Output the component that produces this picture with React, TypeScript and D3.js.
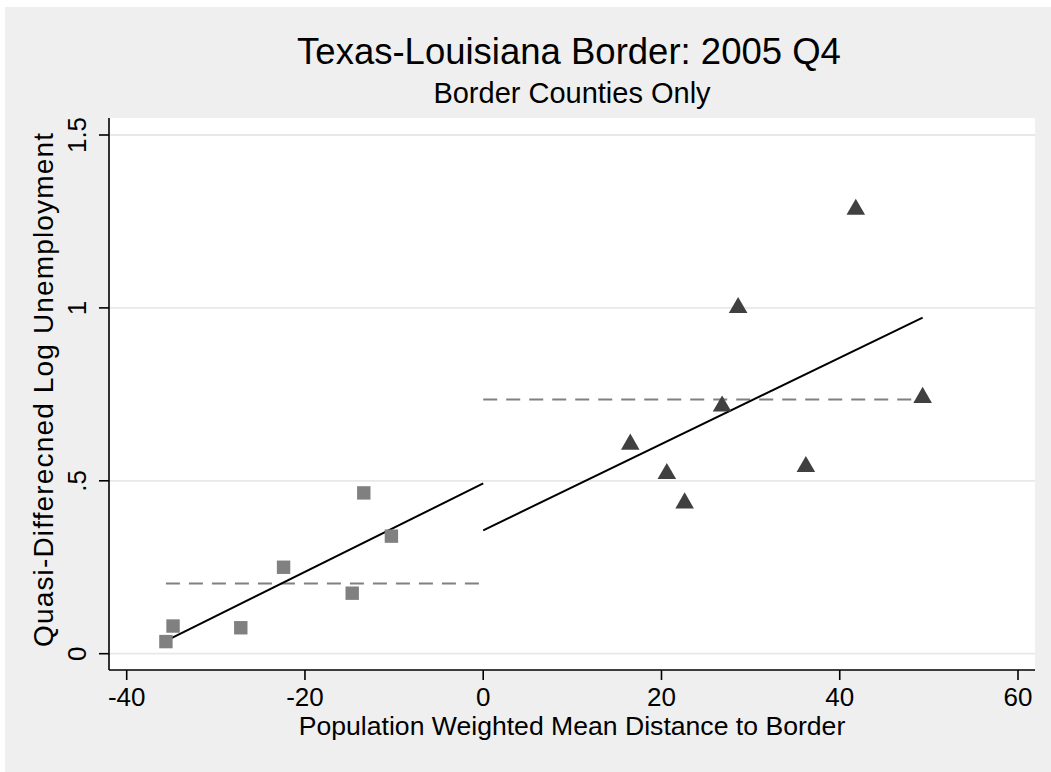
import React from "react";
import * as d3 from "d3";

const width = 1051;
const height = 772;
const plot = { left: 109, right: 1035, top: 118, bottom: 670 }; // plot region in px
const font = "'Liberation Sans', Arial, Helvetica, sans-serif";
const bg = "#efefef";

// Texas side (left of border, negative distance)
const texasX = [-35.6, -34.8, -27.2, -22.4, -14.7, -13.4, -10.3];
const texasY = [0.035, 0.08, 0.075, 0.25, 0.175, 0.465, 0.34];
// Louisiana side (right of border)
const louisianaX = [16.5, 20.6, 22.6, 26.8, 28.6, 36.2, 41.8, 49.3];
const louisianaY = [0.61, 0.525, 0.44, 0.72, 1.005, 0.545, 1.289, 0.745];

const xTicks = [-40, -20, 0, 20, 40, 60];
const xTickLabels = ["-40", "-20", "0", "20", "40", "60"];
const yTicks = [0, 0.5, 1, 1.5];
const yTickLabels = ["0", ".5", "1", "1.5"];

const title = "Texas-Louisiana Border: 2005 Q4";
const subtitle = "Border Counties Only";
const xTitle = "Population Weighted Mean Distance to Border";
const yTitle = "Quasi-Differecned Log Unemployment";

const x = d3.scaleLinear().domain([-40, 60]).range([126.7, 1018]);
const y = d3.scaleLinear().domain([0, 1.5]).range([653.7, 135]);

// simple OLS fit, evaluated over [from, to]
const fit = (xs: number[], ys: number[], from: number, to: number) => {
  const mx = d3.mean(xs) as number;
  const my = d3.mean(ys) as number;
  const sxy = d3.sum(xs, (v, i) => (v - mx) * (ys[i] - my));
  const sxx = d3.sum(xs, (v) => (v - mx) * (v - mx));
  const b = sxy / sxx;
  const a = my - b * mx;
  return [
    [from, a + b * from],
    [to, a + b * to],
  ] as [number, number][];
};

const meanLine = (ys: number[], from: number, to: number) => {
  const m = d3.mean(ys) as number;
  return [
    [from, m],
    [to, m],
  ] as [number, number][];
};

const line = d3
  .line<[number, number]>()
  .x((d) => x(d[0]))
  .y((d) => y(d[1]));

const square = d3.symbol().type(d3.symbolSquare).size(180);
const triangle = d3.symbol().type(d3.symbolTriangle).size(150);

const App = () => {
  const txMin = d3.min(texasX) as number;
  const laMax = d3.max(louisianaX) as number;
  const fits = [fit(texasX, texasY, txMin, 0), fit(louisianaX, louisianaY, 0, laMax)];
  const means = [meanLine(texasY, txMin, 0), meanLine(louisianaY, 0, laMax)];

  return (
    <div style={{ position: "fixed", left: 0, top: 0, right: 0, bottom: 0, background: bg }}>
      <svg
        width={width}
        height={height}
        style={{ position: "absolute", left: 0, top: 0, background: bg }}
        fontFamily={font}
      >
        <rect x={0} y={0} width={width} height={7} fill="#fff" />
        <rect x={0} y={0} width={5} height={height} fill="#fff" />
        <rect
          x={plot.left}
          y={plot.top}
          width={plot.right - plot.left}
          height={plot.bottom - plot.top}
          fill="#fff"
        />
        {yTicks.map((t) => (
          <line
            key={"g" + t}
            x1={plot.left}
            x2={plot.right}
            y1={y(t)}
            y2={y(t)}
            stroke="#e8e8e8"
            strokeWidth={1.8}
          />
        ))}

        {means.map((m, i) => (
          <path
            key={"m" + i}
            d={line(m) as string}
            fill="none"
            stroke="#808080"
            strokeWidth={2}
            strokeDasharray="14 9"
          />
        ))}
        {fits.map((f, i) => (
          <path key={"f" + i} d={line(f) as string} fill="none" stroke="#000" strokeWidth={2} />
        ))}

        {texasX.map((v, i) => (
          <path
            key={"s" + i}
            d={square() as string}
            transform={`translate(${x(v)},${y(texasY[i])})`}
            fill="#808080"
          />
        ))}
        {louisianaX.map((v, i) => (
          <path
            key={"t" + i}
            d={triangle() as string}
            transform={`translate(${x(v)},${y(louisianaY[i]) + 1.5})`}
            fill="#404040"
          />
        ))}

        {/* axes */}
        <line x1={plot.left} x2={plot.left} y1={plot.top} y2={plot.bottom} stroke="#000" strokeWidth={1.6} />
        <line x1={plot.left} x2={plot.right} y1={plot.bottom} y2={plot.bottom} stroke="#000" strokeWidth={1.6} />
        {yTicks.map((t, i) => (
          <g key={"yt" + t}>
            <line x1={plot.left - 10} x2={plot.left} y1={y(t)} y2={y(t)} stroke="#000" strokeWidth={1.6} />
            <text
              transform={`translate(86,${y(t)}) rotate(-90)`}
              textAnchor="middle"
              fontSize={26}
              fill="#000"
            >
              {yTickLabels[i]}
            </text>
          </g>
        ))}
        {xTicks.map((t, i) => (
          <g key={"xt" + t}>
            <line x1={x(t)} x2={x(t)} y1={plot.bottom} y2={plot.bottom + 10} stroke="#000" strokeWidth={1.6} />
            <text x={x(t)} y={705.5} textAnchor="middle" fontSize={26} fill="#000">
              {xTickLabels[i]}
            </text>
          </g>
        ))}

        <text x={572} y={735} textAnchor="middle" fontSize={26.6} fill="#000">
          {xTitle}
        </text>
        <text
          transform="translate(53,390) rotate(-90)"
          textAnchor="middle"
          fontSize={28}
          fill="#000"
          textLength={514}
          lengthAdjust="spacing"
        >
          {yTitle}
        </text>

        <text x={569} y={64} textAnchor="middle" fontSize={36.5} fill="#000">
          {title}
        </text>
        <text x={572} y={103.3} textAnchor="middle" fontSize={29} fill="#000">
          {subtitle}
        </text>
      </svg>
    </div>
  );
};

export default App;
